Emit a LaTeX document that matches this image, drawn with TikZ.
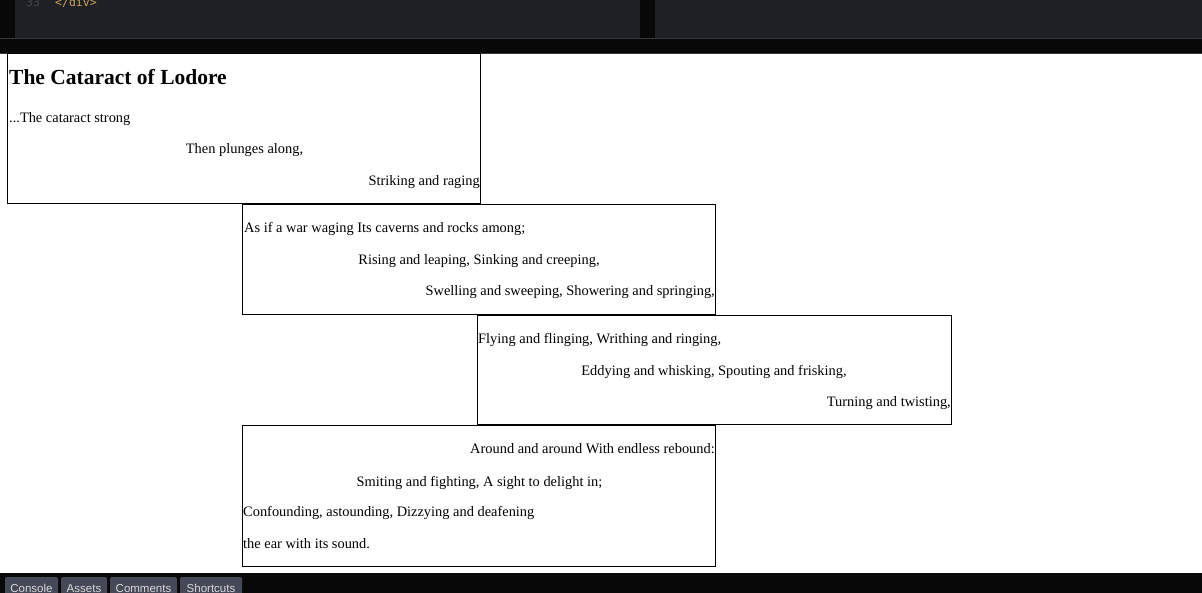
\documentclass[tikz,border=0pt]{standalone}
\usepackage{fontspec}
\setmainfont{Liberation Serif}
\newfontfamily\uifont{Liberation Sans}
\newfontfamily\codefont{DejaVu Sans Mono}
\usetikzlibrary{positioning,calc}
\definecolor{Panel}{HTML}{1F2025}
\definecolor{Bar}{HTML}{080808}
\definecolor{Edge}{HTML}{36373C}
\definecolor{Tab}{HTML}{444857}
\definecolor{Tag}{HTML}{C9A35B}
\definecolor{Num}{HTML}{45474D}

\begin{document}
\begin{tikzpicture}
[x=1pt,y=-1pt,
box/.style={draw=black,thin,inner sep=0pt},
verse/.style={inner sep=0pt,font=\fontsize{14.4}{16}\selectfont},
ttl/.style={inner sep=0pt,font=\fontsize{21.5}{24}\selectfont\bfseries},
tab/.style={fill=Tab,rounded corners=2pt,inner sep=0pt},
tablbl/.style={inner sep=0pt,text=white!85!black,font=\uifont\fontsize{11.5}{13}\selectfont}
]
\useasboundingbox (0,0) rectangle (1202,593);
%% editor panels
\fill[Bar] (0,0) rectangle (1202,53);
\fill[Panel] (15,0) rectangle (640,38);
\fill[Panel] (655,0) rectangle (1202,38);
\draw[Edge] (0,38) -- (1202,38);
\draw[Edge] (0,53.5) -- (1202,53.5);
\node[anchor=base west,inner sep=0pt,text=Num,font=\codefont\fontsize{11.5}{13}\selectfont] (num) at (26,7) {33};
\node[anchor=base west,inner sep=0pt,text=Tag,font=\codefont\fontsize{11.5}{13}\selectfont] (tag) at (55,7) {</div>};
%% page
\fill[white] (0,54) rectangle (1202,573);
%% stanza boxes
\draw[box] (7.5,53.5) rectangle (480.5,203.5);
\draw[box] (242.5,204.5) rectangle (715.5,314.5);
\draw[box] (477.5,315.5) rectangle (951.5,424.5);
\draw[box] (242.5,425.5) rectangle (715.5,566.5);
%% stanza 1
\node[ttl,anchor=mid west] (title) at (9,82.5) {The Cataract of Lodore};
\node[verse,anchor=mid west] (a1) at (9,120) {...The cataract strong};
\node[verse] (a2) at (244.5,150.5) {Then plunges along,};
\node[verse,anchor=mid east] (a3) at (480,183) {Striking and raging};
%% stanza 2
\node[verse,anchor=mid west] (b1) at (244,230) {As if a war waging Its caverns and rocks among;};
\node[verse] (b2) at (479,261.5) {Rising and leaping, Sinking and creeping,};
\node[verse,anchor=mid east] (b3) at (715,293) {Swelling and sweeping, Showering and springing,};
%% stanza 3
\node[verse,anchor=mid west] (c1) at (478,341) {Flying and flinging, Writhing and ringing,};
\node[verse] (c2) at (714,371.5) {Eddying and whisking, Spouting and frisking,};
\node[verse,anchor=mid east] (c3) at (951,404) {Turning and twisting,};
%% stanza 4
\node[verse,anchor=mid east] (d1) at (715,451) {Around and around With endless rebound:};
\node[verse] (d2) at (479.5,482.5) {Smiting and fighting, A sight to delight in;};
\node[verse,anchor=mid west] (d3) at (243,514) {Confounding, astounding, Dizzying and deafening};
\node[verse,anchor=mid west] (d4) at (243,546) {the ear with its sound.};
%% bottom bar
\fill[Bar] (0,573) rectangle (1202,593);
\fill[tab] (5,577) rectangle (58,596);
\fill[tab] (61,577) rectangle (107,596);
\fill[tab] (110,577) rectangle (177,596);
\fill[tab] (180,577) rectangle (242,596);
\node[tablbl] (console) at (31.5,588.5) {Console};
\node[tablbl] (assets) at (84,588.5) {Assets};
\node[tablbl] (comments) at (143.5,588.5) {Comments};
\node[tablbl] (shortcuts) at (211,588.5) {Shortcuts};
\end{tikzpicture}
\end{document}
